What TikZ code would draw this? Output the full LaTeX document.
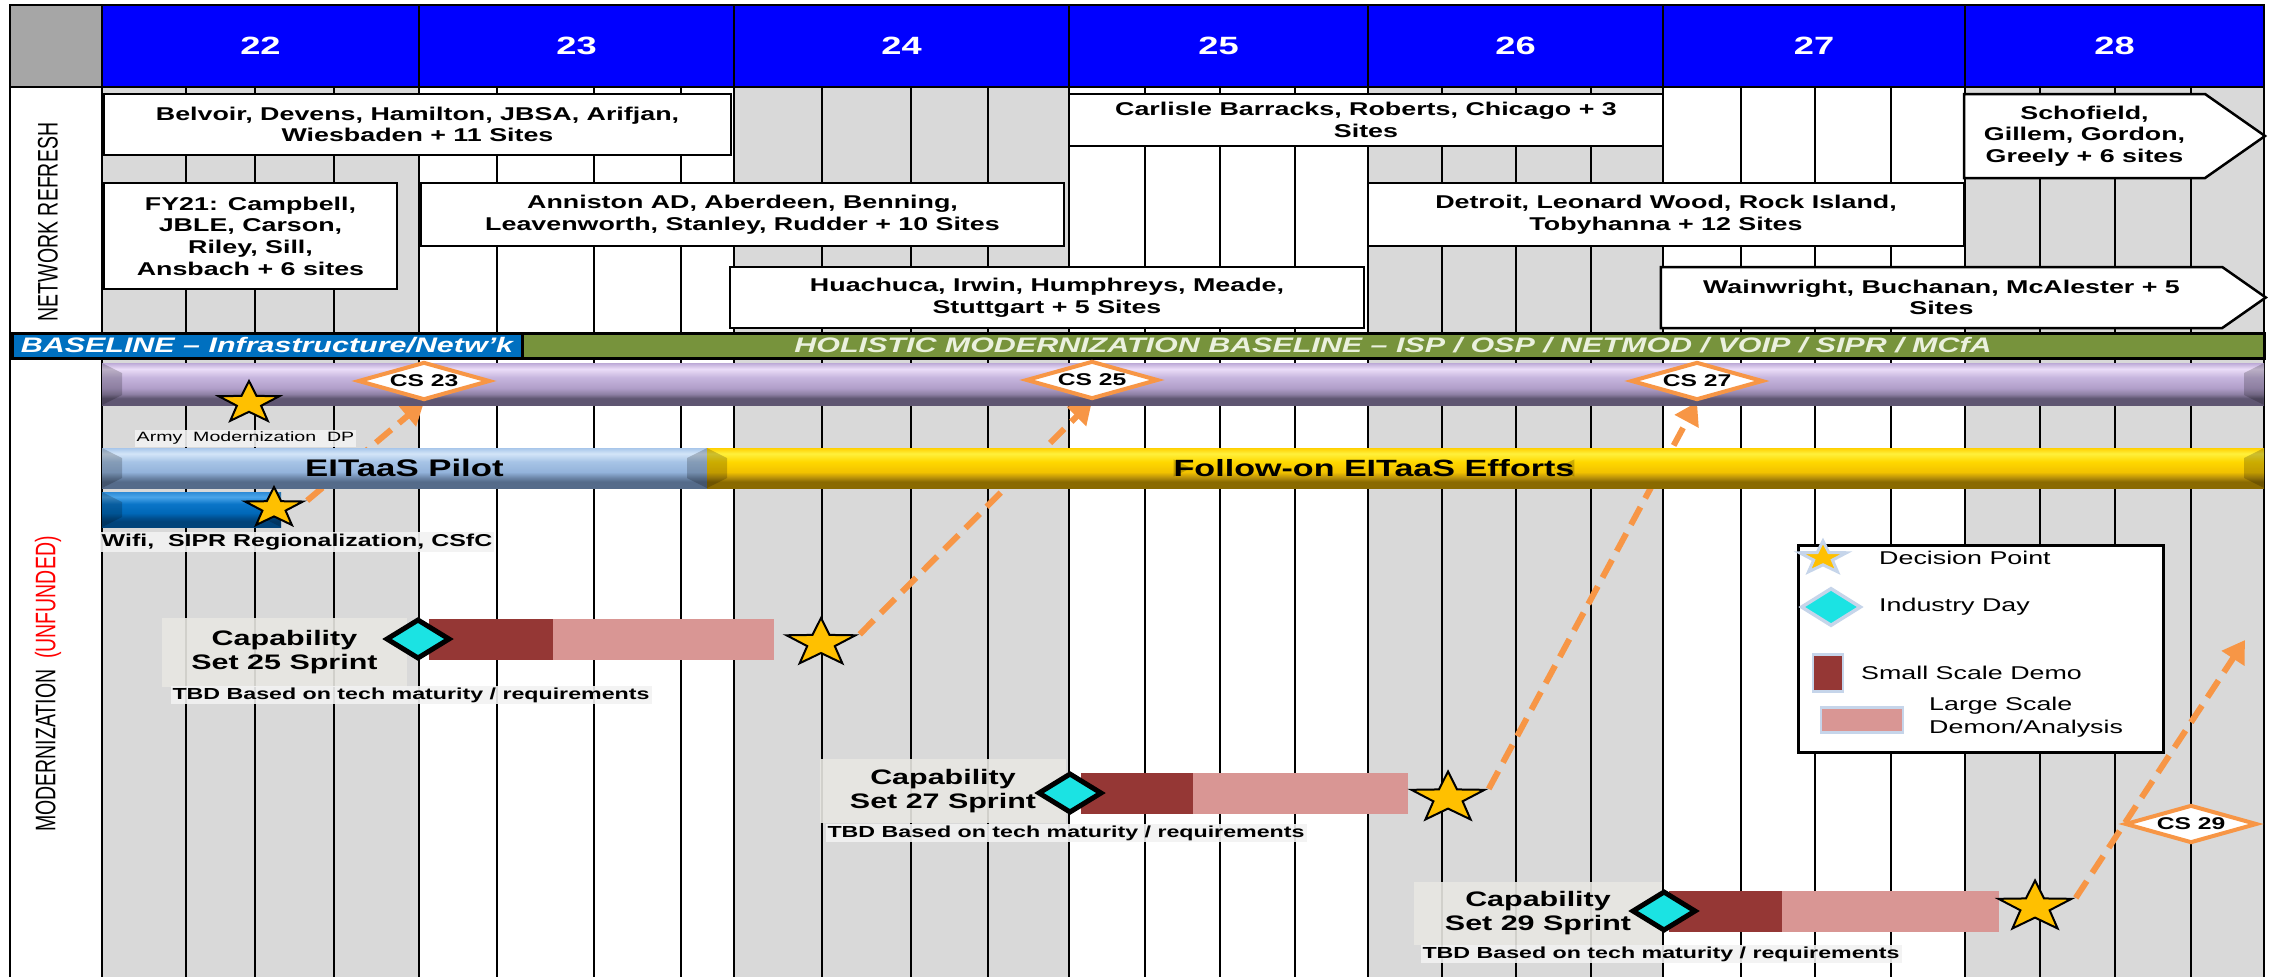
\documentclass[tikz,border=0pt]{standalone}
\usepackage{fontspec}
\usepackage{graphicx}
\setmainfont{Liberation Sans}[FakeStretch=1.45]
\newfontfamily\sidefont{Liberation Sans}
\usetikzlibrary{shapes.geometric,shapes.symbols,arrows.meta}

\definecolor{yearblue}{HTML}{0000FF}
\definecolor{cornergray}{HTML}{A6A6A6}
\definecolor{colgray}{HTML}{D9D9D9}
\definecolor{baseblue}{HTML}{0070C0}
\definecolor{basegreen}{HTML}{77933C}
\definecolor{holitext}{HTML}{EBF1DE}
\definecolor{csorange}{HTML}{F79646}
\definecolor{dpgold}{HTML}{FFC000}
\definecolor{indcyan}{HTML}{1BE3E3}
\definecolor{demored}{HTML}{953735}
\definecolor{demopink}{HTML}{D99694}
\definecolor{capbg}{HTML}{E8E7E2}
\definecolor{tbdbg}{HTML}{F2F2F2}
\definecolor{glowblue}{HTML}{C6D5EA}
\definecolor{unfund}{HTML}{FF0000}
% bar gradients, from bottom to top
\definecolor{purA}{HTML}{5F5672}\definecolor{purB}{HTML}{8E80A4}\definecolor{purC}{HTML}{B09EC9}
\definecolor{purD}{HTML}{C7B6DE}\definecolor{purE}{HTML}{EBDDF8}\definecolor{purF}{HTML}{BCA9D6}
\definecolor{pilA}{HTML}{556B8A}\definecolor{pilB}{HTML}{6C86A8}\definecolor{pilC}{HTML}{93B3DB}
\definecolor{pilD}{HTML}{A7C4E6}\definecolor{pilE}{HTML}{D3E5F8}\definecolor{pilF}{HTML}{A8C6EA}
\definecolor{golA}{HTML}{8A6A00}\definecolor{golB}{HTML}{B8900A}\definecolor{golC}{HTML}{F2C200}
\definecolor{golD}{HTML}{FFD800}\definecolor{golE}{HTML}{FFF03C}\definecolor{golF}{HTML}{FFD000}
\definecolor{wifA}{HTML}{00437A}\definecolor{wifB}{HTML}{004F90}\definecolor{wifC}{HTML}{0068B8}
\definecolor{wifD}{HTML}{0A75C8}\definecolor{wifE}{HTML}{4AA5EA}\definecolor{wifF}{HTML}{2E8BD6}

\pgfdeclareverticalshading{purshade}{100bp}{color(0bp)=(purA); color(33bp)=(purA); color(38bp)=(purB); color(45bp)=(purC); color(58bp)=(purD); color(68bp)=(purE); color(75bp)=(purF); color(100bp)=(purF)}
\pgfdeclareverticalshading{pilshade}{100bp}{color(0bp)=(pilA); color(33bp)=(pilA); color(38bp)=(pilB); color(45bp)=(pilC); color(58bp)=(pilD); color(68bp)=(pilE); color(75bp)=(pilF); color(100bp)=(pilF)}
\pgfdeclareverticalshading{golshade}{100bp}{color(0bp)=(golA); color(33bp)=(golA); color(38bp)=(golB); color(45bp)=(golC); color(58bp)=(golD); color(68bp)=(golE); color(75bp)=(golF); color(100bp)=(golF)}
\pgfdeclareverticalshading{wifshade}{100bp}{color(0bp)=(wifA); color(33bp)=(wifA); color(38bp)=(wifB); color(45bp)=(wifC); color(58bp)=(wifD); color(68bp)=(wifE); color(75bp)=(wifF); color(100bp)=(wifF)}

\pgfdeclarelayer{grid}
\pgfdeclarelayer{links}
\pgfsetlayers{grid,links,main}

\tikzset{
yearcell/.style={draw=black, line width=2pt, fill=yearblue, text=white, font=\bfseries\fontsize{25}{30}\selectfont, minimum height=82pt, inner sep=0pt}, % FY header cells
quarter/.style={black, line width=2pt}, % quarter lines of the grid
borderline/.style={black, line width=2.5pt},
sidelabel/.style={rotate=90, font=\sidefont\fontsize{19.5}{22}\selectfont, inner sep=0pt}, % row titles
sitebox/.style={draw=black, line width=2.5pt, fill=white, align=center, font=\bfseries\fontsize{18.5}{21.7}\selectfont, inner sep=0pt}, % refresh sites
sitearrow/.style={sitebox, signal, signal to=east, signal pointer angle=70},
basebox/.style={draw=black, line width=3pt, inner sep=0pt, minimum height=25pt, font=\bfseries\itshape\fontsize{21}{24}\selectfont},
bevel/.style={path picture={
  \fill[black, opacity=.2] (path picture bounding box.north west) -- ([shift={(20pt,-10pt)}]path picture bounding box.north west) -- ([shift={(20pt,10pt)}]path picture bounding box.south west) -- (path picture bounding box.south west) -- cycle;
  \fill[black, opacity=.2] (path picture bounding box.north east) -- ([shift={(-20pt,-10pt)}]path picture bounding box.north east) -- ([shift={(-20pt,10pt)}]path picture bounding box.south east) -- (path picture bounding box.south east) -- cycle;}},
barnode/.style={bevel, inner sep=0pt, font=\bfseries\fontsize{24}{26}\selectfont}, % timeline bars
csmark/.style={diamond, shape aspect=3.2, draw=csorange, line width=4pt, fill=white, inner sep=0pt, minimum width=132pt, minimum height=38pt, font=\bfseries\fontsize{17}{20}\selectfont}, % capability set milestones
dpstar/.style={star, star points=5, star point ratio=2.5, fill=dpgold, draw=black, line width=2pt, inner sep=0pt, minimum size=#1, xscale=1.45}, % decision points
dpstar/.default=50pt,
industry/.style={diamond, fill=indcyan, draw=black, line width=5pt, inner sep=0pt, minimum width=64pt, minimum height=40pt},
smalldemo/.style={fill=demored, inner sep=0pt, minimum height=41pt},
largedemo/.style={fill=demopink, inner sep=0pt, minimum height=41pt},
sprint/.style={fill=capbg, fill opacity=.9, text opacity=1, align=center, font=\bfseries\fontsize{21}{24}\selectfont, inner sep=0pt},
tbd/.style={fill=tbdbg, fill opacity=.9, text opacity=1, font=\bfseries\fontsize{16}{18}\selectfont, inner sep=2pt},
legtext/.style={anchor=west, align=left, inner sep=0pt, font=\fontsize{18.5}{23}\selectfont},
link/.style={csorange, line width=6pt, dash pattern=on 20pt off 10pt, -{Triangle[length=22pt, width=26pt]}}, % dashed hand-over arrows
}

\begin{document}
\begin{tikzpicture}[x=1pt, y=-1pt]
\useasboundingbox (0,0) rectangle (2272,977);

% shaded years and quarter lines
\begin{pgfonlayer}{grid}
\foreach \a/\b in {102/419, 734/1069, 1368/1663, 1965/2264}
  \fill[colgray] (\a,87) rectangle (\b,977);
\foreach \q in {186,255,334,419,497,594,681,734,822,911,988,1069,1145,1220,1295,1368,1442,1516,1591,1663,1741,1815,1891,1965,2040,2115,2191}
  \draw[quarter] (\q,87) -- (\q,977);
\end{pgfonlayer}

% header
\fill[cornergray] (10,5) rectangle (102,87);
\node[yearcell, minimum width=317pt] (y22) at (260.5,46) {22};
\node[yearcell, minimum width=315pt] (y23) at (576.5,46) {23};
\node[yearcell, minimum width=335pt] (y24) at (901.5,46) {24};
\node[yearcell, minimum width=299pt] (y25) at (1218.5,46) {25};
\node[yearcell, minimum width=295pt] (y26) at (1515.5,46) {26};
\node[yearcell, minimum width=302pt] (y27) at (1814,46) {27};
\node[yearcell, minimum width=299pt] (y28) at (2114.5,46) {28};
\draw[borderline] (10,977) -- (10,5) -- (2264,5) -- (2264,977);
\draw[borderline] (10,87) -- (2264,87);
\draw[borderline] (102,87) -- (102,977);

\node[sidelabel] (nrlab) at (48,222) {\scalebox{1}[1.45]{NETWORK REFRESH}};
\node[sidelabel] (modlab) at (48,684) {\scalebox{1}[1.45]{MODERNIZATION\ \ \textcolor{unfund}{(UNFUNDED)}}};

% network refresh sites
\node[sitebox, minimum width=627pt, minimum height=61pt] (belvoir) at (417.5,124.5) {Belvoir, Devens, Hamilton, JBSA, Arifjan,\\Wiesbaden + 11 Sites};
\node[sitebox, minimum width=594pt, minimum height=52pt] (carlisle) at (1366,120) {Carlisle Barracks, Roberts, Chicago + 3\\Sites};
\node[sitearrow, minimum width=301pt, minimum height=84pt] (schofield) at (2084.5,136) {Schofield,\\Gillem, Gordon,\\Greely + 6 sites};
\node[sitebox, minimum width=293pt, minimum height=106pt] (fy21) at (250.5,236) {FY21: Campbell,\\JBLE, Carson,\\Riley, Sill,\\Ansbach + 6 sites};
\node[sitebox, minimum width=643pt, minimum height=63pt] (anniston) at (742.5,214.5) {Anniston AD, Aberdeen, Benning,\\Leavenworth, Stanley, Rudder + 10 Sites};
\node[sitebox, minimum width=596pt, minimum height=63pt] (detroit) at (1666,214.5) {Detroit, Leonard Wood, Rock Island,\\Tobyhanna + 12 Sites};
\node[sitebox, minimum width=634pt, minimum height=61pt] (huachuca) at (1047,297.5) {Huachuca, Irwin, Humphreys, Meade,\\Stuttgart + 5 Sites};
\node[sitearrow, minimum width=605pt, minimum height=61pt] (wainwright) at (1941.5,297.5) {Wainwright, Buchanan, McAlester + 5\\Sites};

% baseline
\node[basebox, fill=baseblue, text=white, minimum width=510pt] (basebl) at (267,345.5) {BASELINE – Infrastructure/Netw’k};
\node[basebox, fill=basegreen, text=holitext, minimum width=1742pt] (basegr) at (1393,345.5) {HOLISTIC MODERNIZATION BASELINE – ISP / OSP / NETMOD / VOIP / SIPR / MCfA};

% modernization bars
\node[barnode, shading=purshade, minimum width=2162pt, minimum height=42pt] (csbar) at (1183,384) {};
\node[barnode, shading=pilshade, minimum width=605pt, minimum height=40pt] (pilot) at (404.5,468) {EITaaS Pilot};
\node[barnode, shading=golshade, minimum width=1557pt, minimum height=40pt] (follow) at (1485.5,468) {};
\node[barnode, font=\bfseries\fontsize{23.5}{26}\selectfont] (fotext) at (1374,468) {Follow-on EITaaS Efforts};
\node[barnode, shading=wifshade, minimum width=179pt, minimum height=35pt] (wifi) at (191.5,509.5) {};

\node[csmark] (cs23) at (424,381) {CS 23};
\node[csmark] (cs25) at (1092,380) {CS 25};
\node[csmark] (cs27) at (1697,381) {CS 27};
\node[csmark] (cs29) at (2191,824) {CS 29};

\node[dpstar=44pt] (dpa) at (249,403) {};
\node[tbd, font=\fontsize{13.5}{16}\selectfont] (armydp) at (245.5,438.5) {Army\ \ Modernization\ \ DP};
\node[dpstar=42pt] (dpw) at (274,508) {};
\node[tbd, font=\bfseries\fontsize{17.2}{20}\selectfont] (wifilab) at (297,542) {Wifi,\ \ SIPR Regionalization, CSfC};

% capability set sprints
\node[sprint, minimum width=245pt, minimum height=69pt] (cap25) at (284.5,652.5) {Capability\\Set 25 Sprint};
\node[smalldemo, minimum width=124pt] (sd25) at (491,639) {};
\node[largedemo, minimum width=221pt] (ld25) at (663.5,639) {};
\node[industry] (id25) at (418,639) {};
\node[dpstar] (dp25) at (821,643) {};
\node[tbd] (tbd25) at (411,695) {TBD Based on tech maturity / requirements};

\node[sprint, minimum width=246pt, minimum height=64pt] (cap27) at (943,791) {Capability\\Set 27 Sprint};
\node[smalldemo, minimum width=112pt] (sd27) at (1137,793.5) {};
\node[largedemo, minimum width=215pt] (ld27) at (1300.5,793.5) {};
\node[industry] (id27) at (1070,793) {};
\node[dpstar=53pt] (dp27) at (1448,798) {};
\node[tbd] (tbd27) at (1066,833) {TBD Based on tech maturity / requirements};

\node[sprint, minimum width=248pt, minimum height=63pt] (cap29) at (1538,913.5) {Capability\\Set 29 Sprint};
\node[smalldemo, minimum width=113pt] (sd29) at (1725.5,911.5) {};
\node[largedemo, minimum width=217pt] (ld29) at (1890.5,911.5) {};
\node[industry] (id29) at (1664,911) {};
\node[dpstar=53pt] (dp29) at (2035,907) {};
\node[tbd] (tbd29) at (1661,954) {TBD Based on tech maturity / requirements};
\coordinate (nxt) at (2245,640);

\begin{pgfonlayer}{links}
\draw[link] (dpw.outer point 5) -- (cs23.south);
\draw[link] (dp25.outer point 5) -- (cs25.south);
\draw[link] (dp27.outer point 5) -- (cs27.south);
\draw[link] (dp29.outer point 5) -- (nxt);
\end{pgfonlayer}

% legend
\node[draw=black, line width=3pt, fill=white, minimum width=365pt, minimum height=207pt] (legend) at (1980.5,648.5) {};
\node[dpstar=34pt, draw=glowblue, line width=3pt] (lgdp) at (1823,558) {};
\node[legtext] (lgdptx) at (1879,558) {Decision Point};
\node[industry, draw=glowblue, line width=3.5pt, minimum width=60pt, minimum height=38pt] (lgid) at (1831,607) {};
\node[legtext] (lgidtx) at (1879,607) {Industry Day};
\node[smalldemo, draw=glowblue, line width=2.5pt, minimum width=30pt, minimum height=37pt] (lgsd) at (1828,673) {};
\node[legtext] (lgsdtx) at (1861,673) {Small Scale Demo};
\node[largedemo, draw=glowblue, line width=2.5pt, minimum width=82pt, minimum height=25pt] (lgld) at (1862,720) {};
\node[legtext] (lgldtx) at (1929,717) {Large Scale\\Demon/Analysis};
\end{tikzpicture}
\end{document}
